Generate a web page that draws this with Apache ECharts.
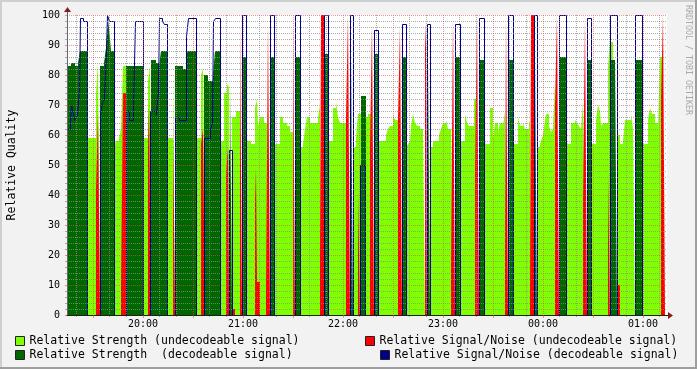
<!DOCTYPE html>
<html><head><meta charset="utf-8">
<script src="https://cdn.jsdelivr.net/npm/echarts@6/dist/echarts.min.js"></script>
<style>html,body{margin:0;padding:0;background:#F2F2F2}#c{width:697px;height:369px}</style>
</head><body><div id="c"></div>
<script>
// Time unit: one RRD sample = 36 s, counted from 19:00 (so 20:00 = 100, 21:00 = 200 ...)
const SAMPLE_SECONDS = 36;
const START_CLOCK_HOUR = 19;
const VIEW_START = 24;   // 19:14:24
const VIEW_END = 624;    // 01:14:24

const tickTimes = [100, 200, 300, 400, 500, 600];
const tickLabels = ['20:00', '21:00', '22:00', '23:00', '00:00', '01:00'];

const NAME_LG = 'Relative Strength (undecodeable signal)';
const NAME_RED = 'Relative Signal/Noise (undecodeable signal)';
const NAME_DG = 'Relative Strength  (decodeable signal)';
const NAME_BLUE = 'Relative Signal/Noise (decodeable signal)';

// [sample time, value] – value holds until the next point
const strengthUndecodeable = [
[24,0],
[44,59],[53,74],[55,84],[57,0],
[71,56],[73,58],[76,59],[78,62],[80,83],[83,0],
[100,59],[105,78],[107,83],[108,0],
[124,59],[130,81],[132,0],
[153,59],[158,80],[160,82],[162,0],
[177,58],[181,74],[184,77],[186,76],[188,0],
[189,66],[193,68],[197,0],
[203,59],[205,58],[208,57],[212,69],[214,72],[215,63],[217,66],[221,64],[224,66],[225,0],
[231,57],[237,66],[240,64],[244,63],[247,61],[250,0],
[257,56],[260,57],[262,62],[264,66],[267,64],[275,66],[277,70],[278,0],
[285,58],[290,69],[293,71],[295,66],[297,64],[303,80],[305,0],
[310,56],[313,59],[315,67],[322,66],[325,67],[328,80],[329,0],
[335,58],[343,60],[345,62],[347,63],[350,67],[352,65],[355,79],[357,0],
[363,56],[365,57],[367,58],[368,63],[370,67],[372,64],[374,63],[377,62],[380,61],[382,0],
[387,56],[390,58],[396,60],[398,62],[400,64],[403,65],[405,62],[408,65],[410,0],
[417,57],[419,58],[422,67],[424,64],[426,63],[431,72],[434,0],
[441,58],[443,57],[447,69],[450,59],[452,64],[455,61],[457,64],[460,63],[462,68],[463,0],
[470,57],[475,66],[477,63],[480,64],[482,62],[486,64],[487,65],[488,0],
[494,56],[497,57],[498,58],[500,60],[502,65],[503,67],[506,63],[508,61],[510,62],[512,78],[514,0],
[523,58],[525,57],[528,64],[532,65],[534,64],[536,63],[538,62],[540,71],[542,0],
[548,57],[553,65],[555,70],[557,68],[558,63],[560,64],[565,83],[567,91],[570,0],
[574,60],[577,57],[580,58],[582,65],[588,67],[590,62],[592,0],
[599,57],[605,65],[607,69],[609,67],[612,64],[615,62],[617,86],[620,0],
[624,0]
];

const snrUndecodeable = [
[24,0],[53,41],[55,68],[57,0],
[78,10],[80,74],[83,0],
[105,56],[106,70],[108,0],
[130,62],[132,0],
[158,57],[160,62],[162,0],
[183,47],[185,56],[186,0],
[189,2],[192,0],
[197,98],[199,0],
[212,38],[213,49],[214,11],[217,0],
[223,7],[225,98],[227,0],
[250,97],[252,0],
[277,19],[278,100],[281,0],
[303,65],[305,100],[307,0],
[315,41],[317,0],
[327,56],[329,97],[331,0],
[355,65],[357,96],[359,0],
[382,89],[383,97],[384,0],
[408,15],[410,99],[412,0],
[432,48],[434,100],[436,0],
[462,22],[463,99],[465,0],
[487,7],[488,100],[491,0],
[512,70],[514,100],[516,0],
[540,38],[542,99],[544,0],
[565,47],[567,0],
[574,10],[577,0],
[618,72],[620,100],[622,0],
[624,0]
];

const strengthDecodeable = [
[24,83],[28,84],[32,83],[35,84],[37,88],[44,0],
[57,83],[61,84],[63,89],[64,93],[65,99],[67,92],[68,88],[71,0],
[83,83],[100,0],
[108,85],[113,84],[116,83],[118,88],[124,0],
[132,83],[140,82],[143,87],[145,88],[153,0],
[161,80],[165,78],[170,80],[172,88],[177,0],
[187,76],[189,0],
[200,86],[203,0],
[228,86],[231,0],
[253,86],[257,0],
[282,87],[285,0],
[308,87],[310,0],
[318,73],[323,0],
[332,87],[335,0],
[360,86],[363,0],
[385,85],[387,0],
[413,86],[417,0],
[437,85],[441,0],
[466,85],[470,0],
[492,86],[494,0],
[517,86],[523,0],
[545,85],[548,0],
[568,85],[572,86],[574,0],
[592,85],[599,0],
[624,0]
];

const snrDecodeable = [
[24,62],[27,64],[28,70],[29,69],[31,65],[33,66],[34,67],[36,75],[37,99],[40,98],[44,0],
[57,67],[59,71],[61,72],[63,89],[64,100],[66,98],[71,0],
[83,68],[86,65],[90,70],[92,98],[100,0],
[107,68],[113,67],[115,75],[116,99],[119,98],[121,97],[124,0],
[132,66],[136,65],[143,93],[145,99],[153,0],
[161,59],[167,62],[169,64],[170,98],[172,99],[177,0],
[186,55],[189,0],
[199,100],[203,0],
[227,100],[231,0],
[252,100],[257,0],
[281,100],[285,0],
[307,100],[310,0],
[317,50],[322,0],
[331,95],[335,0],
[359,97],[363,0],
[384,97],[387,0],
[412,97],[417,0],
[436,99],[441,0],
[465,100],[470,0],
[491,100],[494,0],
[516,100],[523,0],
[544,99],[548,0],
[567,100],[574,0],
[592,100],[599,0],
[624,0]
];

// ---- styling / layout ----
const C_LG = '#80FF00', C_DG = '#006600', C_RED = '#FF0000', C_BLUE = '#00008C';
const GRID_C = 'rgba(143,143,143,0.75)';
const MGRID_C = 'rgba(222,79,79,0.6)';
const MONO = '"DejaVu Sans Mono", monospace';
const G = {left: 67, top: 15, width: 600, height: 300};

const SAMPLES_PER_10MIN = 600 / SAMPLE_SECONDS;
const majorX = [], minorX = [];
for (let k = 0; k * SAMPLES_PER_10MIN < VIEW_END; k++) {
  const t = k * SAMPLES_PER_10MIN;
  if (t <= VIEW_START) continue;
  if (k % 3 === 0) majorX.push(t); else minorX.push(t);
}

function areaSeries(name, data, color, z) {
  return {name, type: 'line', data, step: 'end', symbol: 'none', showSymbol: false,
    lineStyle: {width: 0, color}, itemStyle: {color}, areaStyle: {color, opacity: 1},
    z, animation: false, xAxisIndex: 0, yAxisIndex: 0};
}

const chart = echarts.init(document.getElementById('c'), null, {renderer: 'canvas', width: 697, height: 369});

const legendCommon = {orient: 'horizontal', itemWidth: 9, itemHeight: 9, padding: 0, icon: 'rect',
  selectedMode: false, itemStyle: {borderColor: '#222', borderWidth: 1},
  textStyle: {fontFamily: MONO, fontSize: 11.5, color: '#000', lineHeight: 14}};

const bottomY = G.top + G.height, rightX = G.left + G.width;

chart.setOption({
  backgroundColor: '#F2F2F2',
  animation: false,
  grid: [
    {left: G.left, top: G.top, width: G.width, height: G.height, show: true,
      backgroundColor: '#FFFFFF', borderWidth: 0},
    // same plot shifted half a pixel so the 1px S/N line lands on pixel centres
    {left: G.left + 0.5, top: G.top + 0.5, width: G.width, height: G.height, show: false}
  ],
  xAxis: [{
    type: 'value', gridIndex: 0, min: VIEW_START, max: VIEW_END, z: 10,
    axisLine: {show: true, lineStyle: {color: '#1F1F1F', width: 1}},
    axisTick: {show: true, customValues: majorX, length: 3, lineStyle: {color: MGRID_C}},
    axisLabel: {show: true, customValues: tickTimes, margin: 4,
      formatter: v => tickLabels[tickTimes.indexOf(v)] || '',
      fontFamily: MONO, fontSize: 10, color: '#000'},
    splitLine: {show: true, lineStyle: {color: MGRID_C, width: 1, type: [1, 1]}}
  }, {
    type: 'value', gridIndex: 0, min: VIEW_START, max: VIEW_END, z: 9, position: 'bottom',
    axisLine: {show: false}, axisLabel: {show: false},
    axisTick: {show: true, customValues: minorX, length: 2, lineStyle: {color: GRID_C}},
    splitLine: {show: true, lineStyle: {color: GRID_C, width: 1, type: [1, 1]}}
  }, {
    type: 'value', gridIndex: 1, min: VIEW_START, max: VIEW_END, show: false
  }],
  yAxis: [{
    type: 'value', gridIndex: 0, min: 0, max: 100, interval: 10, z: 10,
    axisLine: {show: true, lineStyle: {color: '#666', width: 1}},
    axisTick: {show: true, length: 2, lineStyle: {color: MGRID_C}},
    minorTick: {show: true, splitNumber: 5, length: 2, lineStyle: {color: GRID_C}},
    splitLine: {show: true, showMinLine: false, lineStyle: {color: MGRID_C, width: 1, type: [1, 1]}},
    minorSplitLine: {show: true, lineStyle: {color: GRID_C, width: 1, type: [1, 1]}},
    axisLabel: {fontFamily: MONO, fontSize: 10, color: '#000', margin: 7}
  }, {
    type: 'value', gridIndex: 1, min: 0, max: 100, show: false
  }],
  legend: [
    Object.assign({data: [NAME_LG], left: 15, top: 334}, legendCommon),
    Object.assign({data: [NAME_RED], left: 365, top: 334}, legendCommon),
    Object.assign({data: [NAME_DG], left: 15, top: 348}, legendCommon),
    Object.assign({data: [NAME_BLUE], left: 380, top: 348}, legendCommon)
  ],
  series: [
    areaSeries(NAME_LG, strengthUndecodeable, C_LG, 2),
    areaSeries(NAME_RED, snrUndecodeable, C_RED, 3),
    areaSeries(NAME_DG, strengthDecodeable, C_DG, 4),
    {name: NAME_BLUE, type: 'line', data: snrDecodeable, step: 'end', symbol: 'none', showSymbol: false,
      xAxisIndex: 2, yAxisIndex: 1,
      lineStyle: {width: 1, color: C_BLUE}, itemStyle: {color: C_BLUE}, clip: false, z: 5,
      animation: false}
  ],
  graphic: [
    {type: 'rect', silent: true, z: 100, shape: {x: 0, y: 0, width: 697, height: 2}, style: {fill: '#CFCFCF'}},
    {type: 'rect', silent: true, z: 100, shape: {x: 0, y: 0, width: 2, height: 369}, style: {fill: '#CFCFCF'}},
    {type: 'rect', silent: true, z: 100, shape: {x: 0, y: 367, width: 697, height: 2}, style: {fill: '#9E9E9E'}},
    {type: 'rect', silent: true, z: 100, shape: {x: 695, y: 0, width: 2, height: 369}, style: {fill: '#9E9E9E'}},
    {type: 'line', silent: true, z: 100, shape: {x1: G.left + 0.5, y1: G.top, x2: G.left + 0.5, y2: G.top - 4}, style: {stroke: '#666', lineWidth: 1}},
    {type: 'polygon', silent: true, z: 100, shape: {points: [[G.left - 3, G.top - 3], [G.left + 4, G.top - 3], [G.left + 0.5, G.top - 8]]}, style: {fill: '#801F1F'}},
    {type: 'line', silent: true, z: 100, shape: {x1: rightX, y1: bottomY + 0.5, x2: rightX + 2, y2: bottomY + 0.5}, style: {stroke: '#1F1F1F', lineWidth: 1}},
    {type: 'polygon', silent: true, z: 100, shape: {points: [[rightX + 1, bottomY - 3], [rightX + 1, bottomY + 4], [rightX + 6, bottomY + 0.5]]}, style: {fill: '#801F1F'}},
    {type: 'text', silent: true, z: 100, x: 12, y: G.top + G.height / 2, rotation: Math.PI / 2,
      style: {text: 'Relative Quality', font: '11.5px ' + MONO, fill: '#000', align: 'center', verticalAlign: 'middle'}},
    {type: 'text', silent: true, z: 100, x: 688, y: 60, rotation: -Math.PI / 2,
      style: {text: 'RRDTOOL / TOBI OETIKER', font: '8.3px ' + MONO, fill: '#A9A9A9', align: 'center', verticalAlign: 'middle'}}
  ]
});
</script></body></html>
